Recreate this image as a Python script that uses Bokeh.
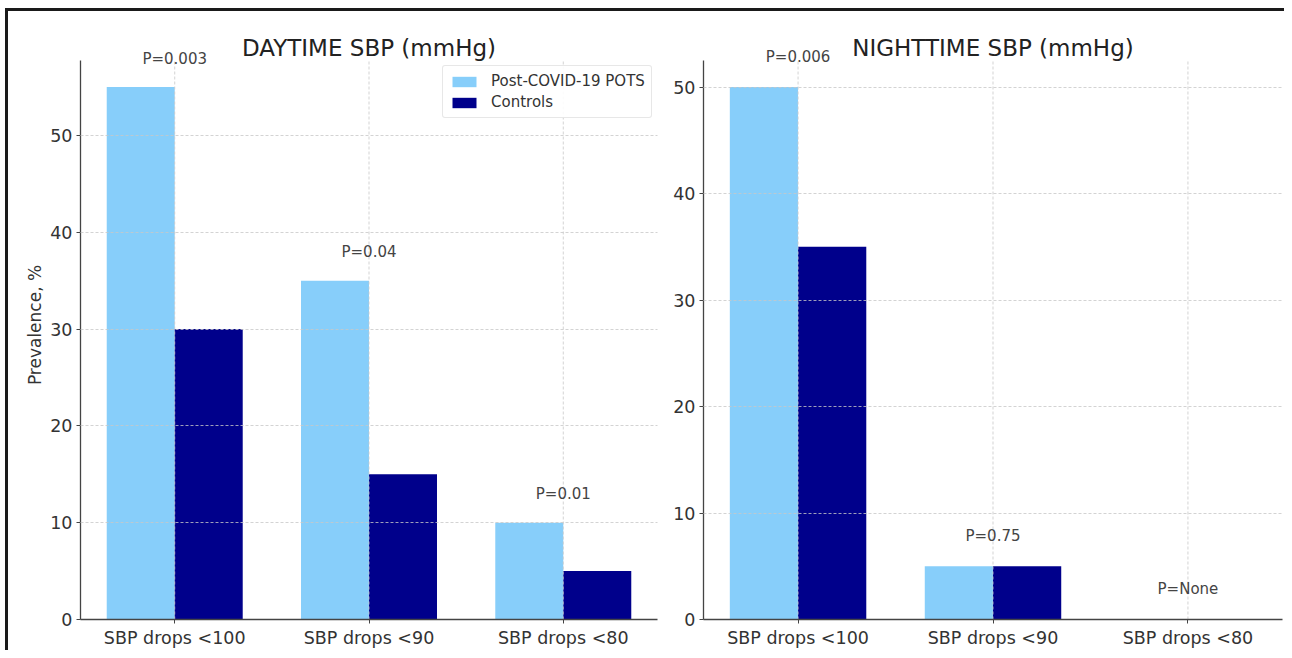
from bokeh.plotting import figure
from bokeh.layouts import row
from bokeh.models import ColumnDataSource, FixedTicker, Legend, LegendItem, Range1d, Label
from bokeh.core.properties import value
from bokeh.embed import file_html
from bokeh.resources import INLINE

categories = ["SBP drops <100", "SBP drops <90", "SBP drops <80"]
day_pots = [55, 35, 10]
day_ctrl = [30, 15, 5]
day_p = ["P=0.003", "P=0.04", "P=0.01"]
night_pots = [50, 5, 0]
night_ctrl = [35, 5, 0]
night_p = ["P=0.006", "P=0.75", "P=None"]

LIGHT = "#87CEFA"
DARK = "#00008B"
FONT = "DejaVu Sans"
TXT = "#333333"
W = 0.35
GRID = "#c8c8c8"
HEAD = 30  # px of headroom above the axes for the P labels and the title
MBT = 49 - HEAD


def make(title, pots, ctrl, ptxt, width, mbl, mbr, ylabel, legend):
    n = len(categories)
    xs = list(range(n))
    ymax = max(pots + ctrl) * 1.05
    frame_h = 639 - MBT - 31
    ppu = (frame_h - HEAD) / ymax
    ytop = ymax + HEAD / ppu
    p = figure(width=width, height=639, output_backend="svg", toolbar_location=None,
               x_range=Range1d(-0.485, n - 1 + 0.485), y_range=Range1d(0, ytop),
               min_border_left=mbl, min_border_right=mbr, min_border_top=MBT,
               min_border_bottom=31)
    p.outline_line_color = None
    # title, centred over the axes, 16px above their top edge
    p.add_layout(Label(x=(n - 1) / 2, y=frame_h - HEAD + 13, y_units="screen", text=title,
                       text_align="center", text_baseline="middle", text_font=FONT,
                       text_font_size="23px", text_color="#222222"))
    src = ColumnDataSource(dict(x=xs, pots=pots, ctrl=ctrl, ptxt=ptxt,
                                xl=[x - W / 2 for x in xs], xr=[x + W / 2 for x in xs],
                                ty=[max(a, b) + 2 for a, b in zip(pots, ctrl)],
                                y0=[0] * n, y1=[ymax] * n))
    r1 = p.vbar(x="xl", top="pots", width=W, source=src, fill_color=LIGHT, line_color=None)
    r2 = p.vbar(x="xr", top="ctrl", width=W, source=src, fill_color=DARK, line_color=None)
    p.segment(x0="x", y0="y0", x1="x", y1="y1", source=src, line_color=GRID,
              line_dash="3 2", line_width=0.8)
    p.text(x="x", y="ty", text="ptxt", source=src, text_align="center",
           text_baseline="bottom", text_font=value(FONT), text_font_size="15px",
           text_color="#444444")
    p.xaxis.ticker = FixedTicker(ticks=xs)
    p.xaxis.major_label_overrides = {i: c for i, c in enumerate(categories)}
    p.yaxis.ticker = FixedTicker(ticks=list(range(0, int(ymax) + 1, 10)))
    p.yaxis.bounds = (0, ymax)
    for ax in (p.xaxis, p.yaxis):
        ax.major_label_text_font = FONT
        ax.major_label_text_font_size = "17.5px"
        ax.major_label_text_color = TXT
        ax.axis_line_color = "#444444"
        ax.axis_line_width = 1.3
        ax.major_tick_line_color = "#444444"
        ax.major_tick_out = 4
        ax.major_tick_in = 0
        ax.minor_tick_line_color = None
        ax.major_label_standoff = 4
    if ylabel:
        p.yaxis.axis_label = ylabel
        p.yaxis.axis_label_text_font = FONT
        p.yaxis.axis_label_text_font_size = "17px"
        p.yaxis.axis_label_text_font_style = "normal"
        p.yaxis.axis_label_text_color = TXT
        p.yaxis.axis_label_standoff = 2
    p.xgrid.grid_line_color = None
    p.ygrid.grid_line_color = GRID
    p.ygrid.grid_line_dash = "3 2"
    p.ygrid.grid_line_width = 0.8
    p.ygrid.level = "guide"
    if legend:
        lg = Legend(items=[LegendItem(label="Post-COVID-19 POTS", renderers=[r1]),
                           LegendItem(label="Controls", renderers=[r2])],
                    location=(362, 501))
        lg.margin = 0
        lg.padding = 6
        lg.spacing = 3
        lg.glyph_width = 30
        lg.glyph_height = 13
        lg.label_standoff = 12
        lg.label_text_font = FONT
        lg.label_text_font_size = "15px"
        lg.label_text_color = TXT
        lg.border_line_color = "#d0d0d0"
        lg.border_radius = 3
        lg.background_fill_alpha = 0.9
        p.add_layout(lg)
    return p


p1 = make("DAYTIME SBP (mmHg)", day_pots, day_ctrl, day_p, 662, 72, 13, "Prevalence, %", True)
p2 = make("NIGHTTIME SBP (mmHg)", night_pots, night_ctrl, night_p, 614, 33, 2, None, False)

lay = row(p1, p2, styles={"border-top": "3px solid #1a1a1a", "border-left": "3px solid #1a1a1a",
                          "margin-left": "5px", "margin-top": "8px"})
open("out.html", "w").write(file_html(lay, INLINE))
